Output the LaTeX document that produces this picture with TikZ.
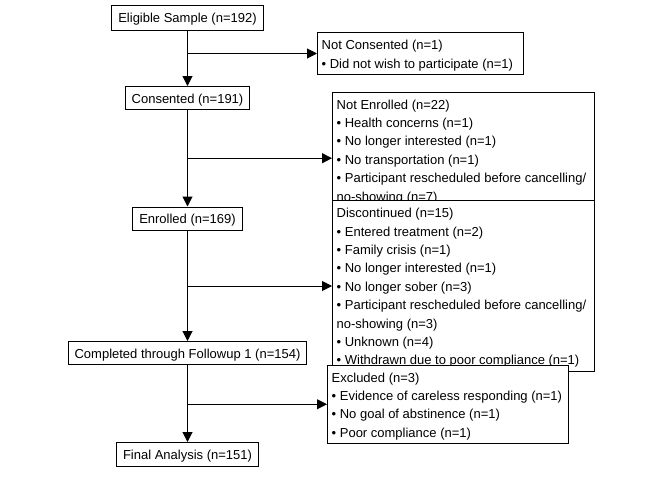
\documentclass[tikz,border=0pt]{standalone}
\usepackage{fontspec}
\setmainfont{Liberation Sans}
\usetikzlibrary{arrows.meta,calc}
\begin{document}
\begin{tikzpicture}[x=1pt,y=-1pt,
  every node/.style={font=\fontsize{13}{18.4}\selectfont},
  mainbox/.style={draw=black, line width=1pt, fill=white, inner xsep=6.5pt, inner ysep=0pt,
    text height=11pt, text depth=1pt, minimum height=23pt, anchor=center},
  sidebox/.style={draw=black, line width=1pt, fill=white, anchor=north west, inner sep=0pt},
  sidetext/.style={anchor=north west, inner sep=0pt, align=left},
  flow/.style={line width=1pt, -{Triangle[length=10pt,width=10pt]}}
]
\fill[white] (0,0) rectangle (672,480);
\useasboundingbox (0,0) rectangle (672,480);

% main column
\node[mainbox, minimum height=25pt] (elig) at (187.5,17.7) {Eligible Sample (n=192)};
\node[mainbox] (cons) at (187.5,98) {Consented (n=191)};
\node[mainbox] (enr) at (187.5,218.5) {Enrolled (n=169)};
\node[mainbox] (comp) at (187.5,353) {Completed through Followup 1 (n=154)};
\node[mainbox, minimum height=24pt] (fin) at (187.5,454.5) {Final Analysis (n=151)};

% side boxes
\node[sidebox, minimum width=206pt, minimum height=42pt] (notcons) at (317,32) {};
\node[sidetext] (notconsT) at ($(notcons.north west)+(4.5,4.6)$)
  {\strut Not Consented (n=1)\\\strut • Did not wish to participate (n=1)};

\node[sidebox, minimum width=262pt, minimum height=131.4pt] (notenr) at (332,92) {};
\node[sidetext] (notenrT) at ($(notenr.north west)+(4.5,4.1)$)
  {\strut Not Enrolled (n=22)\\
   \strut • Health concerns (n=1)\\
   \strut • No longer interested (n=1)\\
   \strut • No transportation (n=1)\\
   \strut • Participant rescheduled before cancelling/\\
   \strut no-showing (n=7)};

\node[sidebox, minimum width=262pt, minimum height=171pt] (disc) at (332,200) {};
\node[sidetext] (discT) at ($(disc.north west)+(4.5,4.6)$)
  {\strut Discontinued (n=15)\\
   \strut • Entered treatment (n=2)\\
   \strut • Family crisis (n=1)\\
   \strut • No longer interested (n=1)\\
   \strut • No longer sober (n=3)\\
   \strut • Participant rescheduled before cancelling/\\
   \strut no-showing (n=3)\\
   \strut • Unknown (n=4)\\
   \strut • Withdrawn due to poor compliance (n=1)};

\node[sidebox, minimum width=241pt, minimum height=78.5pt] (excl) at (327,364.5) {};
\node[sidetext] (exclT) at ($(excl.north west)+(4.5,4.6)$)
  {\strut Excluded (n=3)\\
   \strut • Evidence of careless responding (n=1)\\
   \strut • No goal of abstinence (n=1)\\
   \strut • Poor compliance (n=1)};

% connectors
\draw[flow] (elig.south) -- (cons.north);
\draw[flow] (cons.south) -- (enr.north);
\draw[flow] (enr.south) -- (comp.north);
\draw[flow] (comp.south) -- (fin.north);
\draw[flow] (elig.south |- notcons.west) -- (notcons.west);
\draw[flow] (cons.south |- notenr.west) -- (notenr.west);
\draw[flow] (enr.south |- disc.west) -- (disc.west);
\draw[flow] (comp.south |- excl.west) -- (excl.west);
\end{tikzpicture}
\end{document}
